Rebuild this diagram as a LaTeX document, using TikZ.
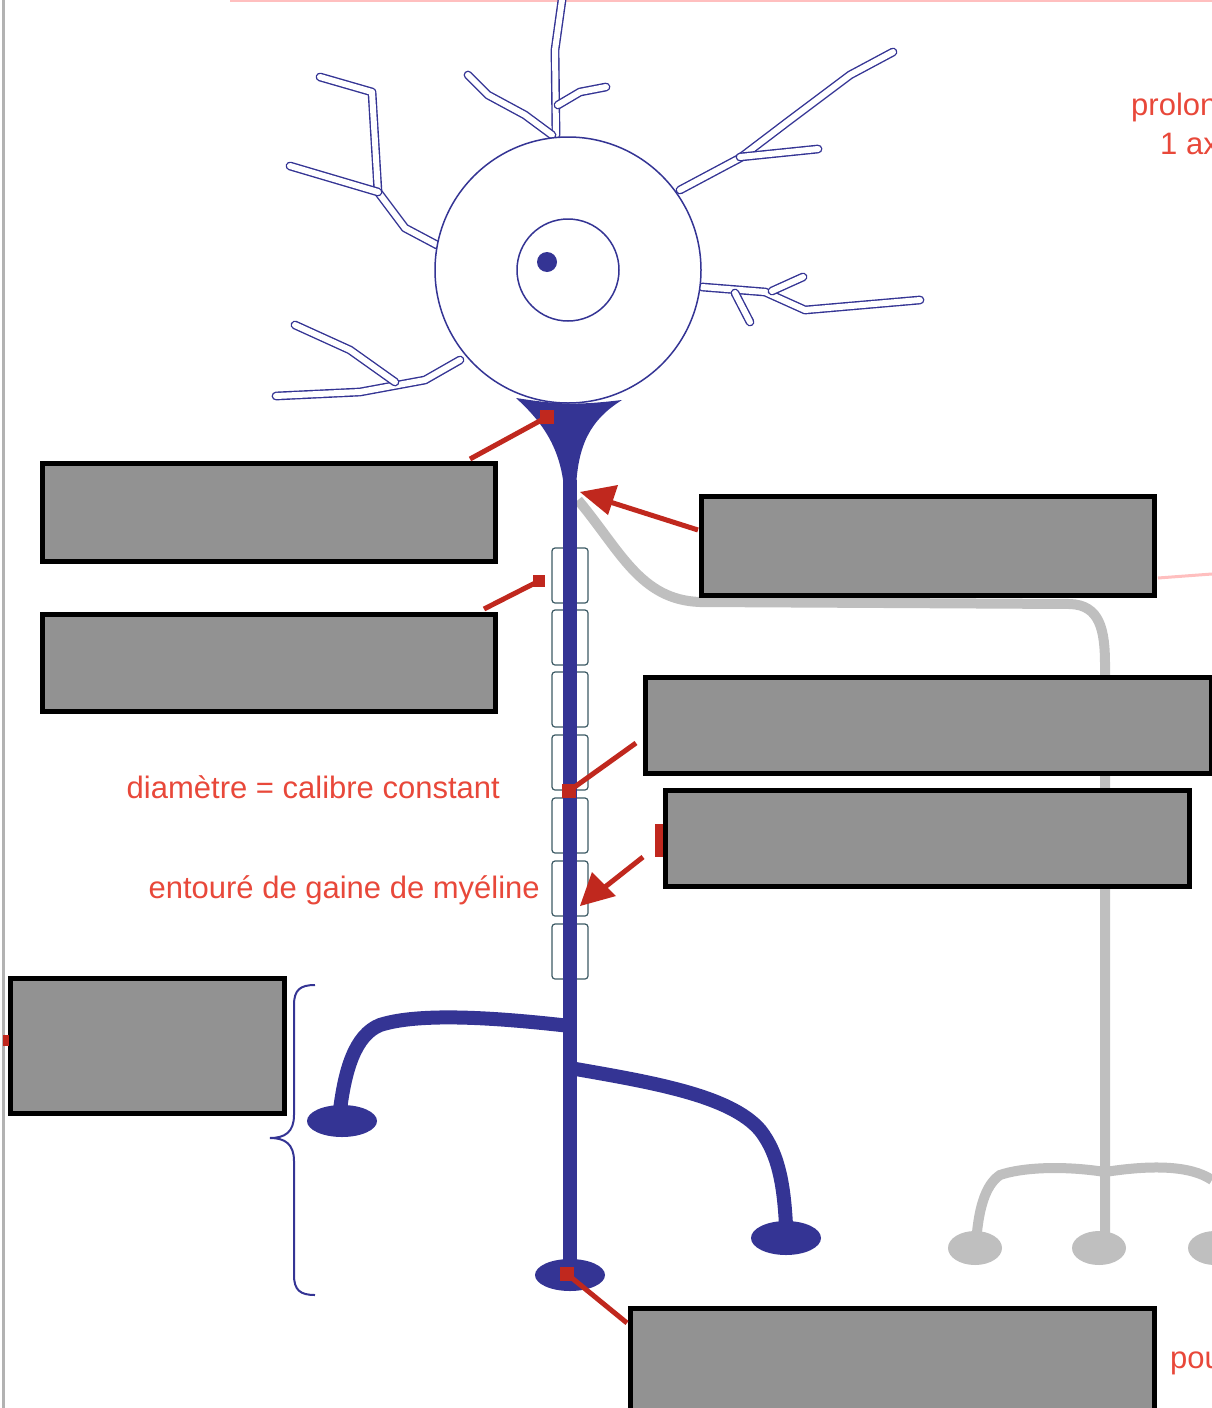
\documentclass[tikz,border=0pt]{standalone}
\usepackage{fontspec}
\setmainfont{Liberation Sans}
\definecolor{nv}{RGB}{52,52,148}
\definecolor{rd}{RGB}{192,40,30}
\definecolor{lr}{RGB}{232,72,58}
\definecolor{bg}{RGB}{146,146,146}
\definecolor{ms}{RGB}{60,90,100}
\begin{document}
\begin{tikzpicture}[x=1pt,y=-1pt,
  navy/.style={draw=nv},
  dend/.style={draw=nv,double=white,double distance=6pt,line width=1.4pt,line cap=round,line join=round},
  box/.style={draw=black,fill=bg,line width=5pt,inner sep=0pt,outer sep=0pt},
  rl/.style={draw=rd,line width=5pt},
  lab/.style={text=lr,font=\fontsize{31}{34}\selectfont,inner sep=0pt},
  my/.style={draw=ms,line width=1.2pt,rounded corners=3pt,fill=white},
  gr/.style={draw=gray!50,line width=10pt}]
\useasboundingbox (0,0) rectangle (1212,1408);
\clip (0,0) rectangle (1212,1408);
% page edges
\draw[gray!60,line width=3pt] (3,0) -- (3,1408);
\draw[red!25,line width=2pt] (230,1) -- (1212,1);
% gray neuron
\draw[gr] (578,500) .. controls (620,550) and (640,600) .. (700,602) -- (1070,604) .. controls (1100,605) and (1105,630) .. (1105,665) -- (1105,1235);
\draw[gr] (1105,1172) .. controls (1060,1165) and (1020,1168) .. (1000,1175) .. controls (985,1185) and (978,1210) .. (976,1245);
\draw[gr] (1105,1172) .. controls (1150,1165) and (1190,1165) .. (1212,1180);
\fill[gray!50] (975,1248) ellipse (27 and 17) (1099,1248) ellipse (27 and 17) (1215,1248) ellipse (27 and 17);
\draw[red!25,line width=3pt] (1158,578) -- (1212,574);
% dendrites
\draw[dend] (562,0) -- (555,50) -- (556,135);
\draw[dend] (558,105) -- (580,92) -- (606,87);
\draw[dend] (468,75) -- (488,95) -- (525,115) -- (552,135);
\draw[dend] (680,190) -- (740,158) -- (790,120) -- (850,75) -- (893,52);
\draw[dend] (740,157) -- (818,149);
\draw[dend] (437,245) -- (405,228) -- (378,192) -- (372,92) -- (320,77);
\draw[dend] (378,192) -- (290,166);
\draw[dend] (460,360) -- (425,380) -- (360,392) -- (276,396);
\draw[dend] (395,382) -- (350,350) -- (295,325);
\draw[dend] (702,287) -- (765,292) -- (805,310) -- (920,300);
\draw[dend] (735,293) -- (750,322);
\draw[dend] (772,291) -- (803,277);
% soma
\draw[navy,fill=white,line width=1.5pt] (568,270) circle (133);
\draw[navy,line width=1.5pt] (568,270) circle (51);
\fill[nv] (547,262) circle (10);
% hillock
\fill[nv] (516,398) .. controls (560,405) and (580,405) .. (622,400) .. controls (590,420) and (578,445) .. (576,488) -- (564,488) .. controls (560,445) and (540,420) .. (516,398) -- cycle;
% axon
\draw[nv,line width=14pt] (570,480) -- (570,1275);
\foreach \y in {548,610,672,735,798,861,924} \draw[my] (552,\y) rectangle (588,\y+55);
\fill[nv] (563,540) rectangle (577,990);
% branches
\draw[nv,line width=14pt] (570,1026) .. controls (500,1018) and (420,1012) .. (380,1025) .. controls (355,1035) and (345,1070) .. (340,1110);
\draw[nv,line width=14pt] (570,1068) .. controls (650,1082) and (730,1095) .. (760,1130) .. controls (780,1155) and (784,1190) .. (786,1225);
\fill[nv] (342,1121) ellipse (35 and 16) (786,1238) ellipse (35 and 17) (570,1275) ellipse (35 and 16);
% brace
\draw[navy,line width=2pt] (315,985) .. controls (300,985) and (294,990) .. (294,1005) -- (294,1115) .. controls (294,1132) and (285,1138) .. (270,1138) .. controls (285,1138) and (294,1144) .. (294,1161) -- (294,1275) .. controls (294,1290) and (300,1295) .. (315,1295);
% boxes
\node[box,minimum width=453,minimum height=98,anchor=north west] (A) at (42,463) {};
\node[box,minimum width=453,minimum height=97,anchor=north west] (B) at (42,614) {};
\node[box,minimum width=453,minimum height=99,anchor=north west] (C) at (701,496) {};
\node[box,minimum width=566,minimum height=96,anchor=north west] (D) at (645,677) {};
\node[box,minimum width=524,minimum height=96,anchor=north west] (E) at (665,790) {};
\node[box,minimum width=274,minimum height=135,anchor=north west] (F) at (10,978) {};
\node[box,minimum width=524,minimum height=102,anchor=north west] (G) at (630,1308) {};
% red connectors
\coordinate (a1) at (547,417); \coordinate (b1) at (539,581); \coordinate (d1) at (569,791);
\coordinate (g1) at (567,1274); \coordinate (c1) at (580,492); \coordinate (e1) at (580,906);
\draw[rl] (470,459) -- (a1); \fill[rd] (a1) ++(-7,-7) rectangle ++(14,14);
\draw[rl] (484,609) -- (b1); \fill[rd] (b1) ++(-6,-6) rectangle ++(12,12);
\draw[rl] (636,743) -- (d1); \fill[rd] (d1) ++(-7,-7) rectangle ++(14,14);
\draw[rl] (627,1323) -- (g1); \fill[rd] (g1) ++(-7,-7) rectangle ++(14,14);
\draw[rl] (698,530) -- (610,502);
\fill[rd] (c1) -- (618,485) -- (608,515) -- cycle;
\draw[rl] (643,857) -- (605,887);
\fill[rd] (e1) -- (592,872) -- (616,896) -- cycle;
\fill[rd] (655,824) rectangle (663,857);
\fill[rd] (3,1035) rectangle (9,1046);
% labels
\node[lab,anchor=base east] (t1) at (500,798) {diamètre = calibre constant};
\node[lab,anchor=base east] (t2) at (540,898) {entouré de gaine de myéline};
\node[lab,anchor=base west] (t3) at (1131,115) {prolongement};
\node[lab,anchor=base west] (t4) at (1160,154) {1 axone};
\node[lab,anchor=base west] (t5) at (1170,1368) {pour};
\end{tikzpicture}
\end{document}
